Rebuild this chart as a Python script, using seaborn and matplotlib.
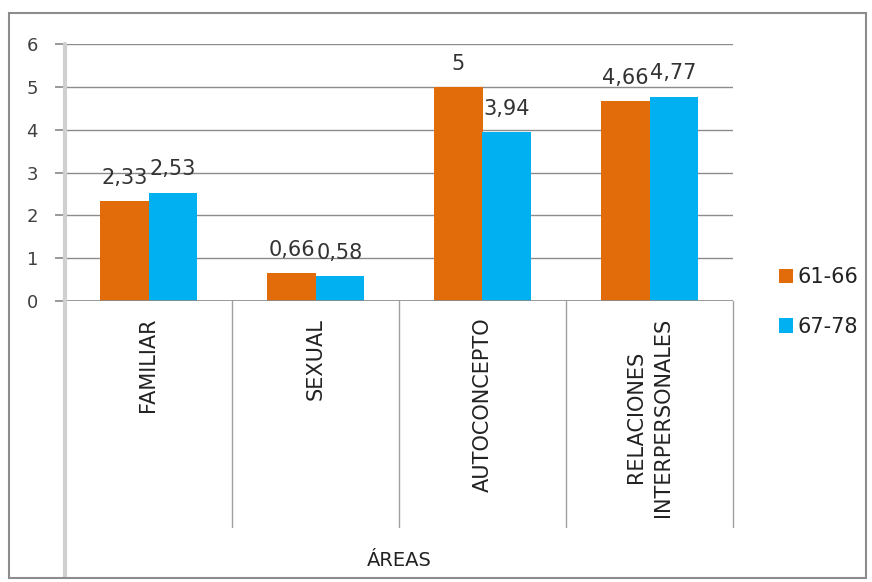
import matplotlib
matplotlib.use("Agg")
import matplotlib.pyplot as plt
import seaborn as sns
import pandas as pd
from matplotlib.patches import Rectangle
import matplotlib.transforms as mtransforms

categories = ["FAMILIAR", "SEXUAL", "AUTOCONCEPTO", "RELACIONES\nINTERPERSONALES"]
series_names = ["61-66", "67-78"]
values_6166 = [2.33, 0.66, 5.0, 4.66]
values_6778 = [2.53, 0.58, 3.94, 4.77]
label_6166 = ["2,33", "0,66", "5", "4,66"]
label_6778 = ["2,53", "0,58", "3,94", "4,77"]
y_ticks = [0, 1, 2, 3, 4, 5, 6]
x_title = "ÁREAS"

sns.set_theme(style="white")
plt.rcParams['font.family'] = ['DejaVu Sans']

df = pd.DataFrame({
    "cat": categories * 2,
    "serie": [series_names[0]] * 4 + [series_names[1]] * 4,
    "val": values_6166 + values_6778,
})

fig = plt.figure(figsize=(8.72, 5.82), dpi=100)
ax = fig.add_axes([65 / 872, (582 - 301) / 582, (733 - 65) / 872, 257 / 582])

palette = {"61-66": "#E36C0A", "67-78": "#00B0F0"}
sns.barplot(data=df, x="cat", y="val", hue="serie", palette=palette,
            width=0.575, ax=ax, saturation=1, legend=True, errorbar=None,
            linewidth=0)

ax.set_ylim(0, 6)
ax.set_xlim(-0.5, 3.5)
ax.set_yticks(y_ticks)
ax.set_yticklabels([str(t) for t in y_ticks], fontsize=13, color="#404040")
ax.yaxis.grid(True, color="#8c8c8c", lw=1)
ax.set_axisbelow(True)
ax.tick_params(axis="y", length=7.5, color="#8c8c8c", pad=12, left=True)
ax.tick_params(axis="x", length=0, pad=12)
ax.set_xticks(range(4))
ax.set_xticklabels(categories, rotation=90, fontsize=15, color="#222222",
                   va="top", ha="center", linespacing=1.45,
                   multialignment="center")
ax.set_xlabel("")
ax.set_ylabel("")

for s in ["top", "right", "bottom", "left"]:
    ax.spines[s].set_visible(False)

# bottom axis line
ax.axhline(0, color="#8c8c8c", lw=1.2)

# left axis line (light grey) extending into the label region
trans = mtransforms.blended_transform_factory(ax.transData, ax.transAxes)
ax.plot([-0.5, -0.5], [1.0, -1.074], transform=trans, color="#d0d0d0",
        lw=3, clip_on=False, zorder=3)
# separators between categories
for xs in [0.5, 1.5, 2.5, 3.5]:
    ax.plot([xs, xs], [0.0, -0.879], transform=trans, color="#a0a0a0",
            lw=1, clip_on=False)

# data labels
for cont, labs in zip(ax.containers, [label_6166, label_6778]):
    ax.bar_label(cont, labels=labs, padding=9.5, fontsize=15, color="#333333")

# x title
fig.text(399 / 872, 1 - 560 / 582, x_title, ha="center", va="center",
         fontsize=14, color="#222222")

# legend
handles, labels = ax.get_legend_handles_labels()
ax.legend(handles, labels, loc="center left", bbox_to_anchor=(760 / 872, 1 - 302 / 582),
          bbox_transform=fig.transFigure, frameon=False, fontsize=15,
          handlelength=0.7, handleheight=0.7, handletextpad=0.2,
          labelspacing=1.4, labelcolor="#222222")

# figure border
fig.patches.append(Rectangle((9 / 872, 1 - 578 / 582), (866 - 9) / 872, (578 - 13) / 582,
                             transform=fig.transFigure, fill=False,
                             edgecolor="#8c8c8c", lw=1.5))

fig.savefig("out.png", dpi=100)
